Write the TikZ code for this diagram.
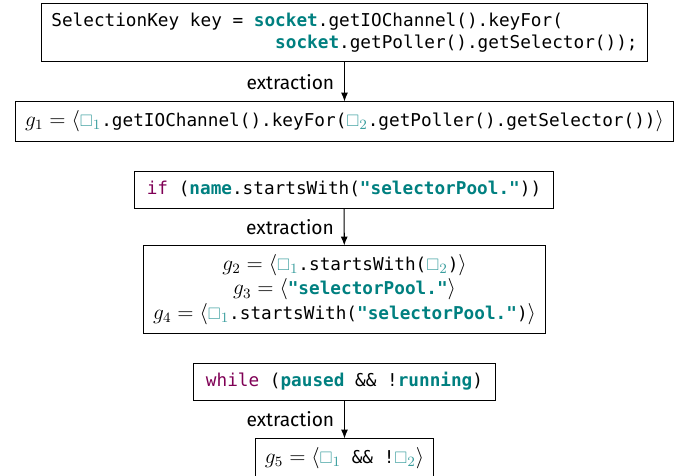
\documentclass[12pt,tikz,border=0pt]{standalone}
\usepackage{amsmath,amssymb}
\usepackage{fontspec}
\setsansfont[Scale=0.9]{Fira Sans}
\setmonofont[Scale=0.83]{DejaVu Sans Mono}
\usepackage{tikz}
\usetikzlibrary{arrows.meta}
\usepackage{xcolor}
\definecolor{kwpurple}{HTML}{7F0055}
\definecolor{idteal}{HTML}{008080}
\definecolor{holeteal}{HTML}{3A9E9E}
\newcommand{\kw}[1]{\textcolor{kwpurple}{#1}}
\newcommand{\codeid}[1]{\textcolor{idteal}{\textbf{#1}}}
\newcommand{\holebox}[1]{\textcolor{holeteal}{\mathord{\scalebox{0.78}{$\square$}}_{#1}}}

\begin{document}
\begin{tikzpicture}[x=0.5626pt,y=-0.5626pt,>={Latex[length=5pt,width=4pt]},
  codebox/.style={draw,line width=0.6pt,font=\fontsize{12}{12.4}\selectfont\ttfamily,
    inner xsep=5.5pt,inner ysep=5.2pt},
  oneline/.style={text height=8.6pt,text depth=3pt},
  steplabel/.style={left=1.5pt,font=\sffamily}]
\useasboundingbox (0,0) rectangle (686,476);
% first snippet: a method call chain
\node[codebox,align=left,inner ysep=5.3pt] (decl) at (344.5,32.5)
  {SelectionKey key = \codeid{socket}.getIOChannel().keyFor(\\
   \hphantom{xxxxxxxxxxxxxxxxxxxxx}\codeid{socket}.getPoller().getSelector());};
\node[codebox,oneline] (g1) at (344.5,121.5)
  {$g_1 = \langle\holebox{1}$.getIOChannel().keyFor($\holebox{2}$.getPoller().getSelector())$\rangle$};
\draw[->,line width=0.6pt] (decl) -- (g1) node[midway,steplabel]{extraction};
% second snippet: a condition on a string
\node[codebox,oneline,inner xsep=7pt,inner ysep=4.4pt] (cond) at (344,190)
  {\kw{if} (\codeid{name}.startsWith(\codeid{"selectorPool."}))};
\node[codebox,align=center,inner ysep=4.6pt] (g234) at (344.5,289.5)
  {$g_2 = \langle\holebox{1}$.startsWith($\holebox{2}$)$\rangle$\\[1.5pt]
   $g_3 = \langle$\codeid{"selectorPool."}$\rangle$\\[1.5pt]
   $g_4 = \langle\holebox{1}$.startsWith(\codeid{"selectorPool."})$\rangle$};
\draw[->,line width=0.6pt] (cond) -- (g234) node[midway,steplabel]{extraction};
% third snippet: a loop guard
\node[codebox,oneline,inner xsep=7pt,inner ysep=4.4pt] (loop) at (344.5,382)
  {\kw{while} (\codeid{paused} \&\& !\codeid{running})};
\node[codebox,oneline] (g5) at (344.5,458.5)
  {$g_5 = \langle\holebox{1}$ \&\& !$\holebox{2}\rangle$};
\draw[->,line width=0.6pt] (loop) -- (g5) node[midway,steplabel]{extraction};
\end{tikzpicture}
\end{document}
